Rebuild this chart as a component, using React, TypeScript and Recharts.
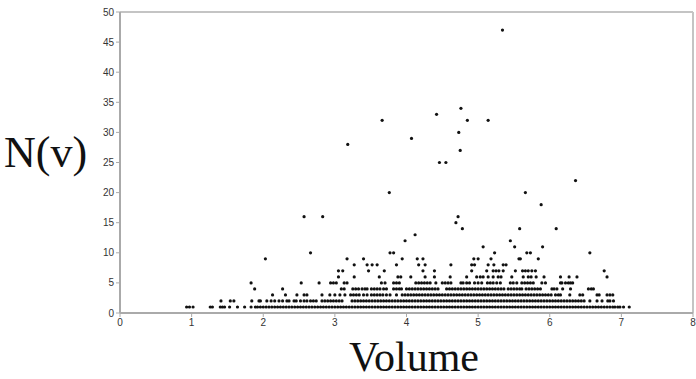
import React from 'react';
import { ScatterChart, Scatter, XAxis, YAxis, ReferenceLine } from 'recharts';

// x-values (Volume) of points at each N(v) level
const n1 = [0.93, 0.97, 1.02, 1.26, 1.29, 1.40, 1.43, 1.46, 1.53, 1.64, 1.74, 1.83, 1.89, 1.92,
  1.96, 2.00, 2.04, 2.08, 2.12, 2.16, 2.20, 2.24, 2.28, 2.32, 2.36, 2.40, 2.44, 2.48, 2.52, 2.56, 2.60, 2.64, 2.68, 2.72, 2.76, 2.80,
  2.84, 2.88, 2.92, 2.96, 3.00, 3.04, 3.08, 3.12, 3.16, 3.20, 3.24, 3.28, 3.32, 3.36, 3.40, 3.44, 3.48, 3.52, 3.56, 3.60, 3.64, 3.68,
  3.72, 3.76, 3.80, 3.84, 3.88, 3.92, 3.96, 4.00, 4.04, 4.08, 4.12, 4.16, 4.20, 4.24, 4.28, 4.32, 4.36, 4.40, 4.44, 4.48, 4.52, 4.56,
  4.60, 4.64, 4.68, 4.72, 4.76, 4.80, 4.84, 4.88, 4.92, 4.96, 5.00, 5.04, 5.08, 5.12, 5.16, 5.20, 5.24, 5.28, 5.32, 5.36, 5.40, 5.44,
  5.48, 5.52, 5.56, 5.60, 5.64, 5.68, 5.72, 5.76, 5.80, 5.84, 5.88, 5.92, 5.96, 6.00, 6.04, 6.08, 6.12, 6.16, 6.20, 6.24, 6.28, 6.32,
  6.36, 6.40, 6.44, 6.48, 6.52, 6.56, 6.60, 6.64, 6.68, 6.72, 6.76, 6.80, 6.84, 6.88, 6.91, 6.95, 6.98, 7.03, 7.11];

const n2 = [1.41, 1.54, 1.59, 1.84, 1.94, 1.96, 2.05, 2.11, 2.16, 2.22, 2.27, 2.33, 2.36, 2.43, 2.46, 2.52, 2.57, 2.61, 2.66, 2.70, 2.74,
  2.82, 2.86, 2.90, 2.94, 2.98, 3.02, 3.06, 3.10,
  3.24, 3.28, 3.32, 3.36, 3.40, 3.44, 3.48, 3.52, 3.56, 3.60, 3.64, 3.68, 3.72, 3.76, 3.80, 3.84, 3.88, 3.92, 3.96, 4.00, 4.04, 4.08,
  4.12, 4.16, 4.20, 4.24, 4.28, 4.32, 4.36, 4.40, 4.44, 4.48, 4.52, 4.56, 4.60, 4.64, 4.68, 4.72, 4.76, 4.80, 4.84, 4.88, 4.92, 4.96,
  5.00, 5.04, 5.08, 5.12, 5.16, 5.20, 5.24, 5.28, 5.32, 5.36, 5.40, 5.44, 5.48, 5.52, 5.56, 5.60, 5.64, 5.68, 5.72, 5.76, 5.80, 5.84,
  5.88, 5.92, 5.96, 6.00, 6.04, 6.08, 6.12, 6.16, 6.20, 6.24, 6.28, 6.32, 6.36, 6.40, 6.44, 6.48,
  6.56, 6.66, 6.73, 6.81, 6.84, 6.89];

const n3 = [2.13, 2.31, 2.47, 2.57, 2.61, 2.82, 2.93, 3.00, 3.07, 3.14, 3.22, 3.26, 3.30, 3.34, 3.40, 3.45, 3.51, 3.55, 3.59, 3.63,
  3.67, 3.72, 3.77, 3.86, 3.94, 3.98,
  4.02, 4.06, 4.10, 4.14, 4.18, 4.22, 4.26, 4.30, 4.34, 4.38, 4.42, 4.46, 4.50, 4.54, 4.58, 4.62, 4.66, 4.70, 4.74, 4.78, 4.82, 4.86,
  4.90, 4.94, 4.98, 5.02, 5.06, 5.10, 5.14, 5.18, 5.22, 5.26, 5.30, 5.34, 5.38, 5.42, 5.46, 5.50, 5.54, 5.58, 5.62, 5.66, 5.70, 5.74,
  5.78, 5.82, 5.86, 5.90, 5.94, 5.98, 6.02, 6.08, 6.12, 6.15, 6.28, 6.42, 6.46, 6.66, 6.69, 6.80, 6.84, 6.88];

const n4 = [1.88, 2.27, 3.09, 3.13, 3.25, 3.29, 3.33, 3.38, 3.42, 3.45, 3.51, 3.55, 3.59, 3.63, 3.68, 3.72, 3.82, 3.86, 3.90, 3.93,
  4.00, 4.04, 4.08, 4.12, 4.16, 4.20, 4.24, 4.28, 4.32, 4.36, 4.40, 4.44, 4.56, 4.60, 4.64, 4.68, 4.72, 4.76, 4.80, 4.84,
  4.88, 4.92, 4.96, 5.00, 5.04, 5.08, 5.12, 5.16, 5.20, 5.24, 5.28, 5.32, 5.36, 5.42, 5.46, 5.50, 5.54, 5.58, 5.61, 5.67, 5.71, 5.75,
  5.79, 5.83, 5.87, 6.03, 6.06, 6.10, 6.18, 6.29, 6.54, 6.58, 6.61];

const n5 = [1.83, 2.53, 2.78, 2.94, 2.98, 3.02, 3.13, 3.17, 3.65, 3.70, 3.82, 3.86, 3.90, 4.13, 4.17, 4.21, 4.25, 4.29, 4.33, 4.41,
  4.50, 4.54, 4.58, 4.62, 4.76, 4.79, 4.84, 4.88, 4.95, 5.00, 5.05, 5.13, 5.17, 5.21, 5.26, 5.31, 5.45, 5.49, 5.54, 5.61, 5.65, 5.69,
  5.73, 5.77, 5.89, 5.94, 6.15, 6.17, 6.22, 6.26, 6.29, 6.32];

const n6 = [3.05, 3.27, 3.62, 3.88, 3.92, 4.06, 4.26, 4.39, 4.61, 4.84, 4.98, 5.03, 5.07, 5.14, 5.21, 5.28, 5.32, 5.47, 5.63, 5.70,
  5.74, 5.81, 5.92, 6.15, 6.27, 6.38, 6.80];

const n7 = [3.05, 3.11, 3.47, 3.69, 4.23, 4.39, 4.91, 5.12, 5.21, 5.25, 5.29, 5.35, 5.52, 5.62, 5.66, 5.70, 5.75, 5.80, 6.76];

const n8 = [3.27, 3.45, 3.52, 3.59, 3.86, 4.17, 4.26, 4.62, 4.91, 4.95, 5.14, 5.22, 5.35, 5.39];

const n9 = [2.03, 3.17, 3.40, 3.94, 4.15, 4.23, 4.94, 5.00, 5.18, 5.57, 5.59, 5.84];

const n10 = [2.66, 3.77, 3.82, 5.23, 5.68, 5.73, 6.56];

// isolated higher points: [volume, N(v)]
const outliers: [number, number][] = [
  [5.07, 11], [5.51, 11], [5.90, 11], [3.98, 12], [5.45, 12], [4.12, 13], [4.78, 14], [5.58, 14], [6.09, 14],
  [4.69, 15], [2.57, 16], [2.83, 16], [4.72, 16], [5.88, 18], [3.76, 20], [5.66, 20], [6.36, 22], [4.46, 25],
  [4.55, 25], [4.75, 27], [3.18, 28], [4.07, 29], [4.73, 30], [3.66, 32], [4.85, 32], [5.14, 32], [4.42, 33],
  [4.76, 34], [5.34, 47],
];

const xTicks = [0, 1, 2, 3, 4, 5, 6, 7, 8];
const yTicks = [0, 5, 10, 15, 20, 25, 30, 35, 40, 45, 50];

const levels: [number, number[]][] = [
  [1, n1], [2, n2], [3, n3], [4, n4], [5, n5], [6, n6], [7, n7], [8, n8], [9, n9], [10, n10],
];

const data = [
  ...levels.flatMap(([n, xs]) => xs.map((x) => ({ x, y: n }))),
  ...outliers.map(([x, y]) => ({ x, y })),
];

const Dot = (props: any) => {
  const { cx, cy } = props;
  if (cx == null || cy == null) return null;
  return <circle cx={cx} cy={cy} r={1.6} fill="#111" />;
};

const tickStyle = { fontSize: 10, fill: '#333', fontFamily: 'Liberation Sans, Arial, sans-serif' };

export default function App() {
  return (
    <div style={{ position: 'absolute', left: 0, top: 0, width: 696, height: 379, background: '#fff' }}>
      <ScatterChart width={696} height={379} margin={{ top: 12, right: 3, left: 90, bottom: 36 }}>
        <XAxis
          type="number"
          dataKey="x"
          domain={[0, 8]}
          ticks={xTicks}
          interval={0}
          allowDataOverflow
          axisLine={{ stroke: '#aaa', strokeWidth: 2 }}
          tickLine={{ stroke: '#aaa' }}
          tickSize={4}
          tick={tickStyle}
          height={30}
        />
        <YAxis
          type="number"
          dataKey="y"
          domain={[0, 50]}
          ticks={yTicks}
          interval={0}
          allowDataOverflow
          axisLine={{ stroke: '#aaa', strokeWidth: 2 }}
          tickLine={{ stroke: '#aaa' }}
          tickSize={4}
          tick={tickStyle}
          width={30}
        />
        <ReferenceLine y={50} stroke="#c4c4c4" strokeWidth={2} />
        <ReferenceLine x={8} stroke="#c4c4c4" strokeWidth={2} />
        <Scatter data={data} shape={<Dot />} isAnimationActive={false} />
      </ScatterChart>
      <div style={{ position: 'absolute', left: 4, top: 127, fontFamily: 'Liberation Serif, serif', fontSize: 44, color: '#111', lineHeight: '52px' }}>
        N(v)
      </div>
      <div style={{ position: 'absolute', left: 0, width: 828, top: 334, textAlign: 'center', fontFamily: 'Liberation Serif, serif', fontSize: 42, color: '#111', lineHeight: '46px' }}>
        Volume
      </div>
    </div>
  );
}
